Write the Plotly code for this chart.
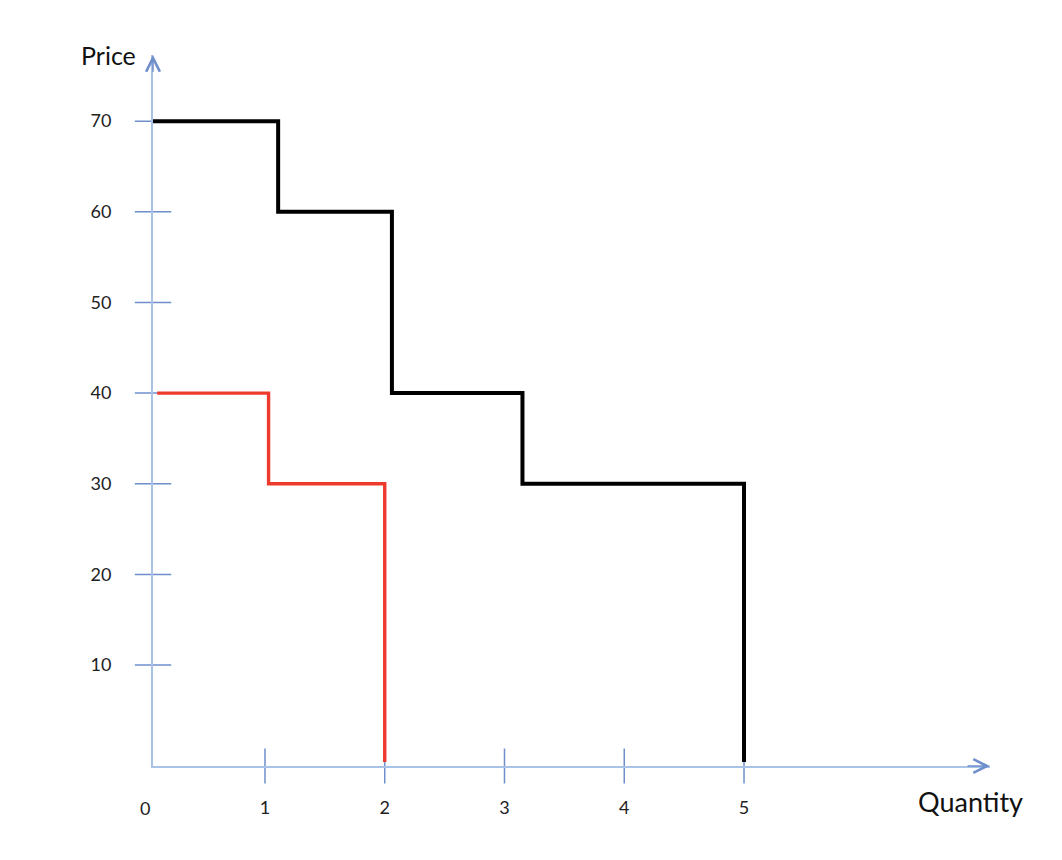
import plotly.graph_objects as go

# ---- data ----
price_ticks = [10, 20, 30, 40, 50, 60, 70]
qty_ticks = [1, 2, 3, 4, 5]
origin_label = "0"

floor_p = -0.7  # where the drawn steps meet the quantity axis

black_q = [0.04, 1.11, 2.06, 3.15, 5.0]
black_p = [70, 60, 40, 30, floor_p]

red_q = [0.1, 1.03, 2.0]
red_p = [40, 30, floor_p]

X_RANGE = [0.065, 7.054]
Y_RANGE = [-1.14, 77.3]

AXIS_COL = "#a9c3e6"
TICK_COL = "#6f8fcb"
FONT = "Lato, 'Open Sans', sans-serif"

fig = go.Figure()

# crossing tick marks on the axes
fig.add_trace(go.Scatter(
    x=[X_RANGE[0]] * len(price_ticks), y=price_ticks, mode="markers",
    marker=dict(symbol="line-ew", size=26, line=dict(color=TICK_COL, width=1.5)),
    hoverinfo="skip", showlegend=False, cliponaxis=False))
fig.add_trace(go.Scatter(
    x=qty_ticks, y=[Y_RANGE[0]] * len(qty_ticks), mode="markers",
    marker=dict(symbol="line-ns", size=25, line=dict(color=TICK_COL, width=1.5)),
    hoverinfo="skip", showlegend=False, cliponaxis=False))

# step curves
fig.add_trace(go.Scatter(x=black_q, y=black_p, mode="lines", line_shape="hv",
                         line=dict(color="#000000", width=4),
                         showlegend=False, cliponaxis=False))
fig.add_trace(go.Scatter(x=red_q, y=red_p, mode="lines", line_shape="hv",
                         line=dict(color="#ee3a2c", width=3.4),
                         showlegend=False, cliponaxis=False))

fig.update_xaxes(range=X_RANGE, showgrid=False, zeroline=False, automargin=False,
                 showline=True, linecolor=AXIS_COL, linewidth=2,
                 tickvals=qty_ticks, ticktext=[str(v) for v in qty_ticks],
                 ticks="", ticklabelstandoff=24,
                 tickfont=dict(family=FONT, size=18, color="#222222"))
fig.update_yaxes(range=Y_RANGE, showgrid=False, zeroline=False, automargin=False,
                 showline=True, linecolor=AXIS_COL, linewidth=2,
                 tickvals=price_ticks, ticktext=[str(v) for v in price_ticks],
                 ticks="", ticklabelstandoff=36,
                 tickfont=dict(family=FONT, size=18, color="#222222"))

# origin label (sits just left of the drawn axis corner)
fig.add_annotation(text=origin_label, x=X_RANGE[0], y=Y_RANGE[0], xref="x", yref="y",
                   xshift=-8, yshift=-42, xanchor="center", yanchor="middle",
                   showarrow=False,
                   font=dict(family=FONT, size=18, color="#222222"))

# arrow heads at the axis ends
fig.add_annotation(x=X_RANGE[1], y=Y_RANGE[0], ax=X_RANGE[1] - 0.2, ay=Y_RANGE[0],
                   xref="x", yref="y", axref="x", ayref="y", text="",
                   showarrow=True, arrowhead=5, arrowsize=1.8, arrowwidth=1.5,
                   arrowcolor=TICK_COL)
fig.add_annotation(x=X_RANGE[0], y=Y_RANGE[1], ax=X_RANGE[0], ay=Y_RANGE[1] - 2,
                   xref="x", yref="y", axref="x", ayref="y", text="",
                   showarrow=True, arrowhead=5, arrowsize=1.8, arrowwidth=1.5,
                   arrowcolor=TICK_COL)

# axis titles
fig.add_annotation(text="Price", xref="paper", yref="paper",
                   x=-0.018, y=1.0, xanchor="right", yanchor="middle",
                   showarrow=False, font=dict(family=FONT, size=25, color="#111111"))
fig.add_annotation(text="Quantity", xref="paper", yref="paper",
                   x=1.042, y=-0.05, xanchor="right", yanchor="middle",
                   showarrow=False, font=dict(family=FONT, size=27, color="#111111"))

# faint frame line at the right edge
fig.add_shape(type="line", xref="paper", yref="paper",
              x0=1.0836, x1=1.0836, y0=1.032, y1=-0.13,
              line=dict(color="#d4d4d4", width=2))

fig.update_layout(width=1054, height=852,
                  margin=dict(l=145, r=72, t=47, b=94, autoexpand=False),
                  plot_bgcolor="white", paper_bgcolor="white",
                  font=dict(family=FONT))

fig.write_html("out.html")
